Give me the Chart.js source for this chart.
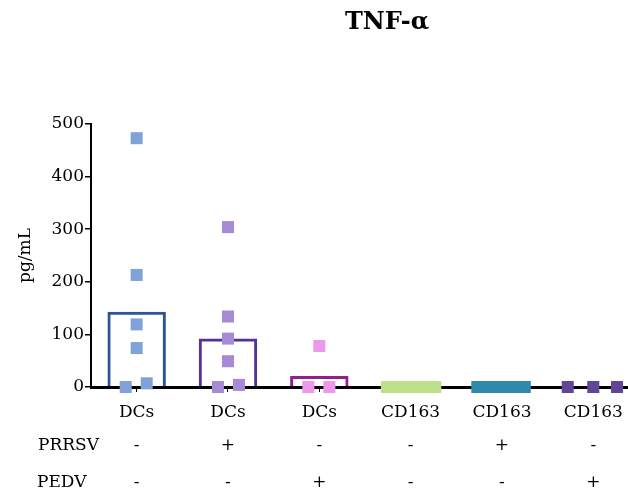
<!DOCTYPE html>
<html><head><meta charset="utf-8">
<script src="https://cdn.jsdelivr.net/npm/chart.js@4"></script>
<style>html,body{margin:0;padding:0;background:#fff;overflow:hidden}</style>
</head><body>
<canvas id="c" width="628" height="491"></canvas>
<script>
const chartTitle = 'TNF-α';
const yTitle = 'pg/mL';
const categories = ['DCs', 'DCs', 'DCs', 'CD163', 'CD163', 'CD163'];
const prrsvLabel = 'PRRSV';
const pedvLabel = 'PEDV';
const prrsv = ['-', '+', '-', '-', '+', '-'];
const pedv = ['-', '-', '+', '-', '-', '+'];
const means = [143, 92, 21, 0, 0, 0];
const values = [
  [473, 213, 119, 74, 0, 7],
  [304, 134, 92, 49, 0, 4],
  [78, 0, 0],
  [0, 0, 0, 0, 0, 0],
  [0, 0, 0, 0, 0, 0],
  [0, 0, 0]
];
// horizontal jitter of the dots, in category units
const jitter = [
  [0, 0, 0, 0, -0.12, 0.11],
  [0, 0, 0, 0, -0.11, 0.12],
  [0, -0.12, 0.11],
  [-0.26, -0.16, -0.05, 0.05, 0.16, 0.27],
  [-0.27, -0.16, -0.05, 0.05, 0.16, 0.25],
  [-0.28, 0, 0.26]
];
const yTicks = [0, 100, 200, 300, 400, 500];

const barColors = ['#2c5598', '#56309a', '#921f8e', '#bde08a', '#2e8aad', '#614597'];
const dotColors = ['#7fa3d9', '#a68ad6', '#ec99ec', '#bde08a', '#2e8aad', '#614599'];
const FONT = 'DejaVu Serif';
const FS = 17;

const datasets = [{
  type: 'bar',
  data: means.map((v, i) => ({x: i, y: v})),
  borderColor: barColors,
  backgroundColor: 'rgba(0,0,0,0)',
  borderWidth: 3,
  borderSkipped: 'bottom',
  barPercentage: 0.64,
  categoryPercentage: 1,
  order: 2
}];
values.forEach((grp, i) => {
  datasets.push({
    type: 'scatter',
    data: grp.map((v, k) => ({x: i + jitter[i][k], y: v})),
    pointStyle: 'rect',
    pointRadius: 8.5,
    pointHoverRadius: 8.5,
    backgroundColor: dotColors[i],
    borderWidth: 0,
    clip: false,
    order: 1
  });
});

const annot = {
  id: 'annot',
  afterDraw(chart) {
    const ctx = chart.ctx;
    const xs = chart.scales.x;
    ctx.save();
    ctx.fillStyle = '#000';
    ctx.font = 'bold 24px "' + FONT + '"';
    ctx.textAlign = 'center';
    ctx.textBaseline = 'alphabetic';
    ctx.fillText(chartTitle, 387, 29);
    ctx.font = FS + 'px "' + FONT + '"';
    ctx.textAlign = 'left';
    ctx.fillText(prrsvLabel, 38, 450);
    ctx.fillText(pedvLabel, 37, 487);
    ctx.textAlign = 'center';
    categories.forEach((c, i) => {
      const px = xs.getPixelForValue(i);
      ctx.fillText(prrsv[i], px, 450);
      ctx.fillText(pedv[i], px, 487);
    });
    ctx.restore();
  }
};

new Chart(document.getElementById('c'), {
  type: 'bar',
  data: {datasets},
  plugins: [annot],
  options: {
    responsive: false,
    animation: false,
    devicePixelRatio: 1,
    layout: {autoPadding: false, padding: {top: 124, left: 15, right: 0, bottom: 0}},
    plugins: {legend: {display: false}, tooltip: {enabled: false}, title: {display: false}},
    scales: {
      x: {
        type: 'linear',
        min: -0.5,
        max: 5.38,
        offset: false,
        afterFit(s) { s.height = 104; s.paddingLeft = 0; s.paddingRight = 0; },
        afterBuildTicks(s) { s.ticks = categories.map((_, i) => ({value: i})); },
        ticks: {
          autoSkip: false, maxRotation: 0, padding: 10,
          color: '#000', font: {family: FONT, size: FS},
          callback: v => categories[v]
        },
        grid: {display: true, drawOnChartArea: false, drawTicks: true, tickLength: 5, color: '#000', lineWidth: 1, offset: false},
        border: {display: true, color: '#000', width: 3}
      },
      y: {
        min: 0,
        max: 500,
        afterFit(s) { s.width = 76; },
        afterBuildTicks(s) { s.ticks = yTicks.map(v => ({value: v})); },
        ticks: {color: '#000', padding: 1, font: {family: FONT, size: FS}},
        grid: {display: true, drawOnChartArea: false, drawTicks: true, tickLength: 6, color: '#000', lineWidth: 1.5},
        border: {display: true, color: '#000', width: 2},
        title: {display: true, text: yTitle, color: '#000', padding: 0, font: {family: FONT, size: FS}}
      }
    }
  }
});
</script>
</body></html>
